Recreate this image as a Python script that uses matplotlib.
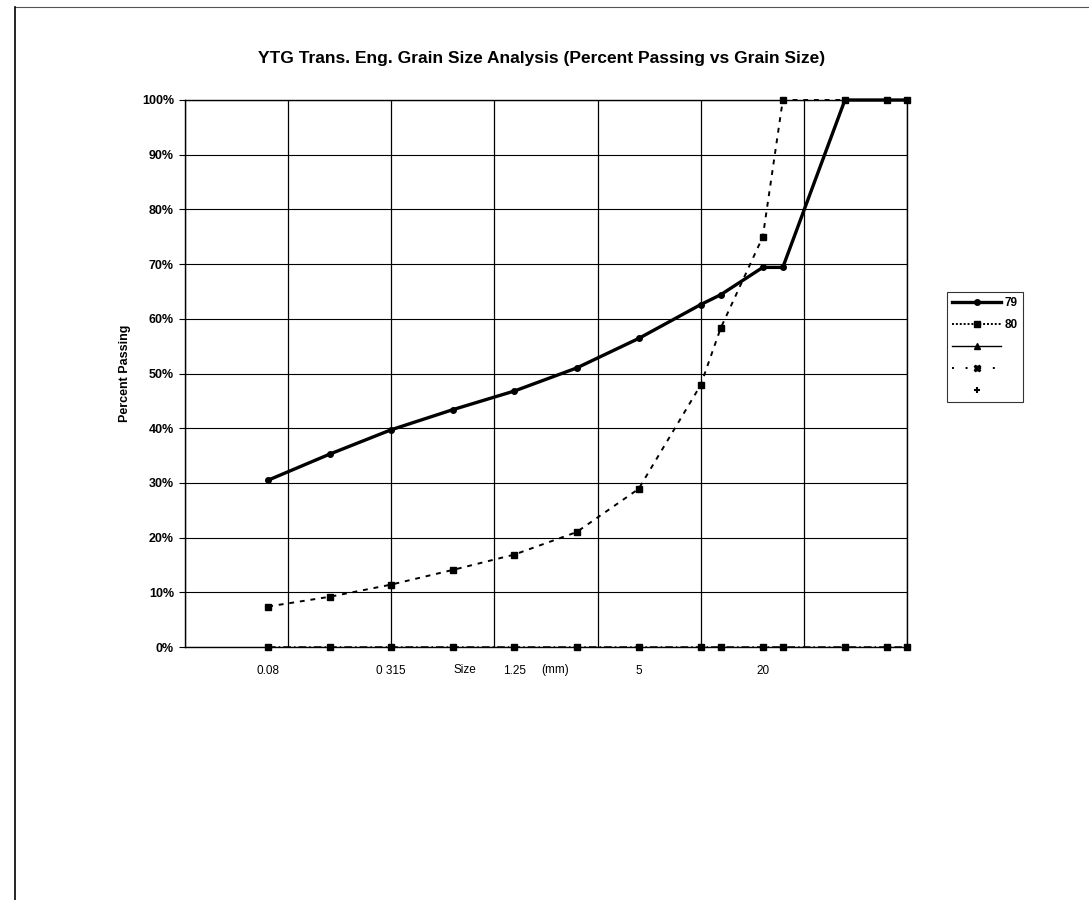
import numpy as np
import matplotlib
matplotlib.use('Agg')
import matplotlib.pyplot as plt
import matplotlib.ticker as ticker
from matplotlib.lines import Line2D

plt.rcParams['font.family'] = ['Liberation Sans', 'DejaVu Sans']

# Siebgroessen (mm)
groesse = [0.08, 0.16, 0.315, 0.63, 1.25, 2.5, 5, 10, 12.5, 20, 25, 50, 80, 100]

# Durchgang in %
probe_79 = [30.5, 35.3, 39.7, 43.4, 46.8, 51.0, 56.4, 62.6, 64.4, 69.4, 69.4, 100, 100, 100]
probe_80 = [7.4, 9.2, 11.4, 14.1, 16.9, 21.0, 28.9, 47.9, 58.3, 75.0, 100, 100, 100, 100]
probe_leer = [0, 0, 0, 0, 0, 0, 0, 0, 0, 0, 0, 0, 0, 0]

x_beschriftung = [0.08, 0.315, 1.25, 5, 20]
x_gitter = [10 ** (-1.5 + 0.5 * k) for k in range(8)]

fig = plt.figure(figsize=(10.89, 9), dpi=100)
ax = fig.add_axes([185 / 1089, 1 - 647 / 900, 722 / 1089, 547 / 900])

ax.plot(groesse, probe_leer, color='black', lw=1.1, ls=(0, (5, 2, 1, 2)),
        marker='s', ms=5, zorder=6, clip_on=False)
ax.plot(groesse, probe_80, color='black', lw=1.4, ls=(0, (2.5, 3)),
        marker='s', ms=4.5, zorder=4, clip_on=False)
ax.plot(groesse, probe_79, color='black', lw=2.4, marker='o', ms=4, zorder=5, clip_on=False)

ax.set_xscale('log')
ax.set_xlim(10 ** -1.5, 100)
ax.set_ylim(0, 100)

ax.xaxis.set_major_locator(ticker.FixedLocator(x_beschriftung))
ax.xaxis.set_major_formatter(ticker.FixedFormatter(['0.08', '0 315', '1.25', '5', '20']))
ax.xaxis.set_minor_locator(ticker.FixedLocator(x_gitter))
ax.xaxis.set_minor_formatter(ticker.NullFormatter())
ax.tick_params(axis='x', which='both', length=0, labelsize=8.5, pad=13)

ax.yaxis.set_major_locator(ticker.MultipleLocator(10))
ax.yaxis.set_major_formatter(ticker.PercentFormatter(100, decimals=0))
ax.tick_params(axis='y', length=4, width=0.8, labelsize=9, pad=4)
for lbl in ax.get_yticklabels():
    lbl.set_fontweight('bold')

ax.grid(True, axis='x', which='minor', color='black', lw=0.9)
ax.grid(True, axis='y', which='major', color='black', lw=0.8)
for s in ax.spines.values():
    s.set_linewidth(1.0)

ax.set_ylabel('Percent Passing', fontsize=9, fontweight='bold', labelpad=8)
ax.text(0.388, -0.042, 'Size', transform=ax.transAxes, ha='center', va='center', fontsize=8.5)
ax.text(0.512, -0.042, '(mm)', transform=ax.transAxes, ha='center', va='center', fontsize=8.5)

fig.text(0.497, 1 - 58 / 900, 'YTG Trans. Eng. Grain Size Analysis (Percent Passing vs Grain Size)',
         ha='center', va='center', fontsize=12.5, fontweight='bold')

# Legende
griffe = [
    Line2D([], [], color='black', lw=2.4, marker='o', ms=4),
    Line2D([], [], color='black', lw=1.4, ls=(0, (1, 1)), marker='s', ms=4.5),
    Line2D([], [], color='black', lw=1.0, marker='^', ms=4),
    Line2D([], [], color='black', lw=1.4, ls=(0, (1, 6)), marker='X', ms=5),
    Line2D([], [], color='black', lw=0, marker='+', ms=5, mew=1.5),
]
leg = fig.legend(griffe, ['79', '80', '', '', ''], loc='upper left',
                 bbox_to_anchor=(947 / 1089, 1 - 292 / 900), fontsize=8.5,
                 frameon=True, fancybox=False, edgecolor='black', handlelength=4.2,
                 handletextpad=0.3, borderpad=0.4, labelspacing=0.85, borderaxespad=0)
leg.get_frame().set_linewidth(0.8)
for t in leg.get_texts():
    t.set_fontweight('bold')

# Rahmen des Scans
fig.add_artist(Line2D([15 / 1089, 1], [1 - 7 / 900, 1 - 7 / 900], color='#555555', lw=0.8))
fig.add_artist(Line2D([15 / 1089, 15 / 1089], [0, 1 - 7 / 900], color='black', lw=1.2))

fig.savefig('out.png', dpi=100)
